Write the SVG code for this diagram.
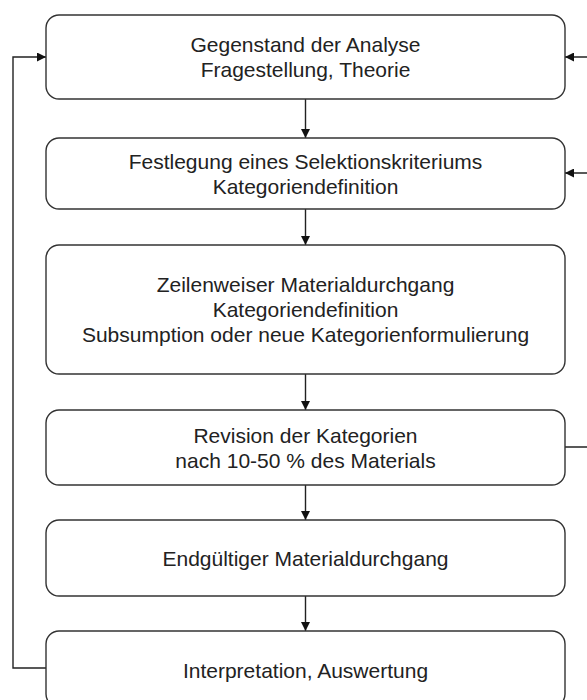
<svg xmlns="http://www.w3.org/2000/svg" width="587" height="700" viewBox="0 0 587 700">
<style>
.box{fill:#fff;stroke:#333;stroke-width:1.4}
.lbl{font-family:"Liberation Sans",Arial,sans-serif;font-size:21px;fill:#222;text-anchor:middle}
.con{fill:none;stroke:#222;stroke-width:1.4}
</style>
<defs>
<marker id="arr" viewBox="0 0 10 10" refX="10" refY="5" markerWidth="9" markerHeight="9" markerUnits="userSpaceOnUse" orient="auto">
<path d="M0,0 L10,5 L0,10 z" fill="#111"/>
</marker>
</defs>
<rect width="587" height="700" fill="#fff"/>
<g id="connectors">
<line class="con" x1="305.5" y1="99" x2="305.5" y2="138" marker-end="url(#arr)"/>
<line class="con" x1="305.5" y1="209" x2="305.5" y2="245" marker-end="url(#arr)"/>
<line class="con" x1="305.5" y1="374" x2="305.5" y2="410" marker-end="url(#arr)"/>
<line class="con" x1="305.5" y1="485" x2="305.5" y2="520" marker-end="url(#arr)"/>
<line class="con" x1="305.5" y1="596" x2="305.5" y2="631" marker-end="url(#arr)"/>
<polyline class="con" points="46,668 13,668 13,57 46,57" marker-end="url(#arr)"/>
<line class="con" x1="600" y1="57" x2="565" y2="57" marker-end="url(#arr)"/>
<line class="con" x1="600" y1="173" x2="565" y2="173" marker-end="url(#arr)"/>
<line class="con" x1="565" y1="447" x2="600" y2="447"/>
</g>
<g id="n1">
<rect class="box" x="46" y="15" width="519" height="84" rx="13"/>
<text class="lbl" x="305.5" y="52">Gegenstand der Analyse</text>
<text class="lbl" x="305.5" y="77">Fragestellung, Theorie</text>
</g>
<g id="n2">
<rect class="box" x="46" y="138" width="519" height="71" rx="13"/>
<text class="lbl" x="305.5" y="168.5">Festlegung eines Selektionskriteriums</text>
<text class="lbl" x="305.5" y="193.5">Kategoriendefinition</text>
</g>
<g id="n3">
<rect class="box" x="46" y="245" width="519" height="129" rx="13"/>
<text class="lbl" x="305.5" y="292">Zeilenweiser Materialdurchgang</text>
<text class="lbl" x="305.5" y="317">Kategoriendefinition</text>
<text class="lbl" x="305.5" y="342">Subsumption oder neue Kategorienformulierung</text>
</g>
<g id="n4">
<rect class="box" x="46" y="410" width="519" height="75" rx="13"/>
<text class="lbl" x="305.5" y="442.5">Revision der Kategorien</text>
<text class="lbl" x="305.5" y="467.5">nach 10-50 % des Materials</text>
</g>
<g id="n5">
<rect class="box" x="46" y="520" width="519" height="76" rx="13"/>
<text class="lbl" x="305.5" y="565.5">Endgültiger Materialdurchgang</text>
</g>
<g id="n6">
<rect class="box" x="46" y="631" width="519" height="76" rx="13"/>
<text class="lbl" x="305.5" y="677.5">Interpretation, Auswertung</text>
</g>
</svg>
